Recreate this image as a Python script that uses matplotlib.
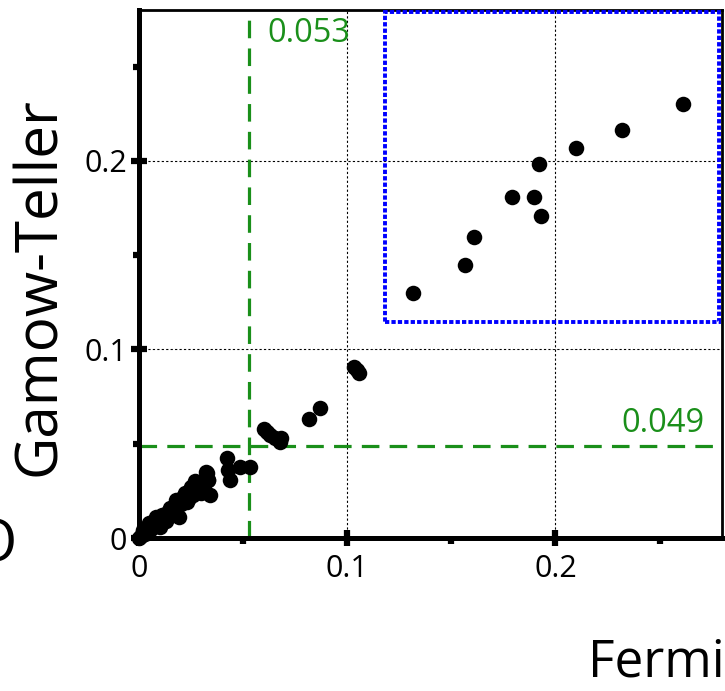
import matplotlib
matplotlib.use('Agg')
import matplotlib.pyplot as plt
from matplotlib.ticker import FixedLocator
from matplotlib.patches import Rectangle

# ---------------- data ----------------
fermi = [0.000, 0.001, 0.002, 0.003, 0.004, 0.005, 0.006, 0.007, 0.008, 0.009,
         0.010, 0.011, 0.012, 0.013, 0.014, 0.015, 0.016, 0.017, 0.018, 0.019,
         0.020, 0.021, 0.022, 0.023, 0.024, 0.025, 0.026, 0.027, 0.028, 0.029,
         0.030, 0.031, 0.032, 0.033, 0.034,
         0.0532, 0.0484, 0.0421, 0.0436, 0.0428, 0.0325, 0.0332, 0.0309,
         0.0253, 0.0229, 0.0205, 0.0165,
         0.1031, 0.1045, 0.1057, 0.0871, 0.0815, 0.0601, 0.0615, 0.0628,
         0.0652, 0.0676, 0.0684,
         0.1316, 0.1567, 0.1610, 0.1791, 0.1898, 0.1931, 0.1920, 0.2098,
         0.2321, 0.2612]
gamow_teller = [0.000, 0.001, 0.004, 0.002, 0.005, 0.008, 0.005, 0.009, 0.011, 0.007,
                0.006, 0.012, 0.010, 0.009, 0.014, 0.016, 0.012, 0.015, 0.020, 0.011,
                0.018, 0.022, 0.024, 0.019, 0.021, 0.027, 0.023, 0.030, 0.026, 0.029,
                0.024, 0.028, 0.035, 0.031, 0.023,
                0.0378, 0.0378, 0.0423, 0.0308, 0.0361, 0.0343, 0.0308, 0.0272,
                0.0255, 0.0228, 0.0184, 0.0131,
                0.0909, 0.0892, 0.0874, 0.0688, 0.0631, 0.0577, 0.0562, 0.0546,
                0.0529, 0.0511, 0.0529,
                0.1298, 0.1448, 0.1597, 0.1807, 0.1809, 0.1705, 0.1981, 0.2067,
                0.2166, 0.2304]

x_threshold = 0.053
y_threshold = 0.049
threshold_labels = ["0.053", "0.049"]

box_x = [0.118, 0.2787]
box_y = [0.1146, 0.279]

major_ticks = [0, 0.1, 0.2]
minor_ticks = [0.05, 0.15, 0.25]
tick_labels = ["0", "0.1", "0.2"]
axis_limits = [0, 0.28]

GREEN = '#1a8f1a'
FONT = 'Open Sans'

fig = plt.figure(figsize=(7.25, 6.91), dpi=100)
ax = fig.add_axes([139 / 725, 1 - 538 / 691, (722 - 139) / 725, (538 - 10) / 691])
ax.set_xlim(axis_limits)
ax.set_ylim(axis_limits)

# grid (only at 0.1, 0.2)
for v in major_ticks[1:]:
    ax.axvline(v, color='black', lw=0.8, ls=(0, (2, 2)), zorder=1)
    ax.axhline(v, color='black', lw=0.8, ls=(0, (2, 2)), zorder=1)

# threshold lines
ax.plot([x_threshold, x_threshold], axis_limits, color=GREEN, lw=2.3,
        ls=(0, (5.5, 3.2)), zorder=2)
ax.plot([0, 0.2775], [y_threshold, y_threshold], color=GREEN, lw=2.3,
        ls=(0, (5.5, 3.2)), zorder=2)
ax.text(x_threshold + 0.0085, 0.2675, threshold_labels[0], color=GREEN,
        fontsize=23.5, family=FONT, ha='left', va='center')
ax.text(0.2715, y_threshold + 0.003, threshold_labels[1], color=GREEN,
        fontsize=23.5, family=FONT, ha='right', va='bottom')

# blue box
rect = Rectangle((box_x[0], box_y[0]), box_x[1] - box_x[0], box_y[1] - box_y[0],
                 fill=False, edgecolor='#0000ff', lw=2.8, ls=(0, (1.1, 0.55)),
                 zorder=3)
ax.add_patch(rect)

# data
ax.scatter(fermi, gamow_teller, s=125, c='black', zorder=5, clip_on=False,
           linewidths=0)

# spines
ax.spines['left'].set_linewidth(3.6)
ax.spines['bottom'].set_linewidth(3.6)
ax.spines['top'].set_linewidth(2.0)
ax.spines['right'].set_linewidth(2.0)

ax.xaxis.set_major_locator(FixedLocator(major_ticks))
ax.yaxis.set_major_locator(FixedLocator(major_ticks))
ax.set_xticklabels(tick_labels)
ax.set_yticklabels(tick_labels)
ax.xaxis.set_minor_locator(FixedLocator(minor_ticks))
ax.yaxis.set_minor_locator(FixedLocator(minor_ticks))
ax.tick_params(which='major', direction='inout', length=11, width=4.5,
               labelsize=22)
ax.tick_params(axis='x', which='major', pad=6)
ax.tick_params(axis='y', which='major', pad=3)
ax.tick_params(which='minor', direction='out', length=4, width=4.5)
for lab in ax.get_xticklabels() + ax.get_yticklabels():
    lab.set_family(FONT)

# axis titles
fig.text(40 / 725, 1 - 287 / 691, 'Gamow-Teller', rotation=90, fontsize=42,
         family=FONT, ha='center', va='center')
fig.text(588 / 725, 1 - 663 / 691, 'Fermi', fontsize=37, family=FONT,
         ha='left', va='center')
fig.text(17 / 725, 1 - 546 / 691, 'O', fontsize=42, family=FONT,
         ha='right', va='center')

fig.savefig('out.png', dpi=100)
